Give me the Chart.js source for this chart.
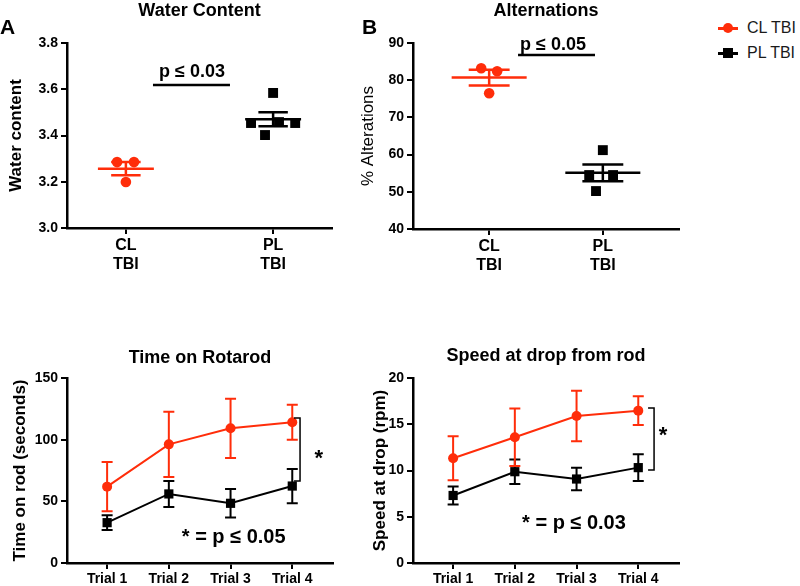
<!DOCTYPE html>
<html>
<head>
<meta charset="utf-8">
<script src="https://cdn.jsdelivr.net/npm/chart.js@4.4.1/dist/chart.umd.min.js"></script>
<style>
  body { margin: 0; background: #fff; width: 800px; height: 586px; position: relative; overflow: hidden;
         font-family: "Liberation Sans", Arial, Helvetica, sans-serif; }
  canvas { position: absolute; }
  #legend { position: absolute; left: 716px; top: 17px; font-size: 16px; color: #1a1a1a; }
  #legend .row { height: 25px; line-height: 22px; white-space: nowrap; position: relative; padding-left: 31px; }
  #legend .ln { position: absolute; left: 2px; top: 10px; width: 20px; height: 3px; }
  #legend .mk { position: absolute; left: 7px; top: 6px; width: 10px; height: 10px; }
</style>
</head>
<body>
<canvas id="chartA" width="340" height="275" style="left:0;top:0"></canvas>
<canvas id="chartB" width="340" height="275" style="left:346px;top:0"></canvas>
<canvas id="chartC" width="340" height="306" style="left:0;top:280px"></canvas>
<canvas id="chartD" width="340" height="306" style="left:346px;top:280px"></canvas>
<div id="legend"></div>
<script>
// ---- data ----
const seriesNames = ['CL TBI', 'PL TBI'];
const groupLabels = [['CL', 'TBI'], ['PL', 'TBI']];
const trialLabels = ['Trial 1', 'Trial 2', 'Trial 3', 'Trial 4'];

// A: water content, one value per animal (x = group 1/2 with a little jitter)
const waterCL = [3.285, 3.285, 3.199];
const waterCLx = [0.94, 1.055, 1.0];
const waterPL = [3.454, 3.402, 3.584, 3.458, 3.454];
const waterPLx = [1.85, 1.945, 2.0, 2.04, 2.15];

// B: % alternations
const altCL = [83.2, 82.4, 76.5];
const altCLx = [0.93, 1.07, 1.0];
const altPL = [54.5, 50.2, 61.2, 54.5];
const altPLx = [1.88, 1.94, 2.0, 2.09];

// C: time on rotarod (mean, error)
const rotaCL = [61.9, 96.2, 109.2, 114.1];
const rotaCLerr = [20, 26.5, 24, 14.2];
const rotaPL = [32.7, 56, 48.4, 62.4];
const rotaPLerr = [6, 10.5, 11.6, 13.9];

// D: speed at drop (mean, error)
const speedCL = [11.32, 13.59, 15.89, 16.47];
const speedCLerr = [2.38, 3.1, 2.72, 1.55];
const speedPL = [7.3, 9.87, 9.08, 10.31];
const speedPLerr = [0.97, 1.33, 1.22, 1.45];

const RED = 'rgb(255,45,10)';
const BLACK = '#000';

Chart.defaults.font.family = '"Liberation Sans", Arial, Helvetica, sans-serif';
Chart.defaults.color = '#000';

const mean = a => a.reduce((s, v) => s + v, 0) / a.length;
const sem = a => {
  const m = mean(a);
  return Math.sqrt(a.reduce((s, v) => s + (v - m) ** 2, 0) / (a.length - 1) / a.length);
};

function yAxis(min, max, step, title, bold, titlePad, fmt) {
  return {
    min: min, max: max,
    ticks: { stepSize: step, font: { size: 14, weight: 'bold' }, padding: 3, callback: fmt || (v => v) },
    grid: { drawOnChartArea: false, color: '#000', lineWidth: 2, tickLength: 6 },
    border: { color: '#000', width: 2.5 },
    title: { display: true, text: title, font: { size: 17, weight: bold ? 'bold' : 'normal' },
             padding: { top: titlePad, bottom: 0 } },
    afterFit(s) { s.width = 67; }
  };
}

function xAxis(min, max, labels, fontSize, h) {
  return {
    type: 'linear', min: min, max: max,
    afterBuildTicks(s) { s.ticks = labels.map((_, i) => ({ value: i + 1 })); },
    ticks: { callback: v => labels[v - 1], font: { size: fontSize, weight: 'bold' }, padding: 2,
             maxRotation: 0, autoSkip: false },
    grid: { drawOnChartArea: false, color: '#000', lineWidth: 2, tickLength: 6 },
    border: { color: '#000', width: 2.5 },
    afterFit(s) { s.height = h; }
  };
}

// panel letter, title, mean/SEM lines, error bars, significance marks
function makeDeco(cfg) {
  return {
    id: 'deco' + cfg.letter,
    beforeDatasetsDraw(chart) {
      if (!cfg.errors) return;
      const { ctx, scales: { x, y } } = chart;
      cfg.errors.forEach(e => {
        ctx.save();
        ctx.strokeStyle = e.color;
        ctx.lineWidth = 2;
        e.mean.forEach((m, i) => {
          const px = x.getPixelForValue(i + 1);
          const t = y.getPixelForValue(m + e.err[i]);
          const b = y.getPixelForValue(m - e.err[i]);
          ctx.beginPath();
          ctx.moveTo(px, t); ctx.lineTo(px, b);
          ctx.moveTo(px - 5.5, t); ctx.lineTo(px + 5.5, t);
          ctx.moveTo(px - 5.5, b); ctx.lineTo(px + 5.5, b);
          ctx.stroke();
        });
        ctx.restore();
      });
    },
    afterDraw(chart) {
      const { ctx, chartArea: ca, scales: { x, y } } = chart;
      ctx.save();
      ctx.fillStyle = '#000';
      ctx.font = 'bold 21px "Liberation Sans", Arial, sans-serif';
      ctx.textAlign = 'left';
      ctx.textBaseline = 'alphabetic';
      ctx.fillText(cfg.letter, cfg.letterPos[0], cfg.letterPos[1]);

      ctx.font = 'bold 18px "Liberation Sans", Arial, sans-serif';
      ctx.textAlign = 'center';
      ctx.fillText(cfg.title, (ca.left + ca.right) / 2, cfg.titleY);

      if (cfg.groups) {
        cfg.groups.forEach(g => {
          const m = mean(g.vals), s = sem(g.vals);
          const cx = x.getPixelForValue(g.center);
          const hw = x.getPixelForValue(g.center + cfg.meanHalf) - cx;
          const sw = x.getPixelForValue(g.center + cfg.semHalf) - cx;
          const ym = y.getPixelForValue(m), yt = y.getPixelForValue(m + s), yb = y.getPixelForValue(m - s);
          ctx.strokeStyle = g.color;
          ctx.lineWidth = 2.5;
          ctx.beginPath();
          ctx.moveTo(cx - hw, ym); ctx.lineTo(cx + hw, ym);
          ctx.moveTo(cx - sw, yt); ctx.lineTo(cx + sw, yt);
          ctx.moveTo(cx - sw, yb); ctx.lineTo(cx + sw, yb);
          ctx.moveTo(cx, yt); ctx.lineTo(cx, yb);
          ctx.stroke();
        });
      }

      if (cfg.sigLine) {
        const L = cfg.sigLine;
        ctx.strokeStyle = '#000';
        ctx.lineWidth = 2.5;
        ctx.beginPath();
        ctx.moveTo(x.getPixelForValue(L.x0), y.getPixelForValue(L.y));
        ctx.lineTo(x.getPixelForValue(L.x1), y.getPixelForValue(L.y));
        ctx.stroke();
        ctx.font = 'bold 18px "Liberation Sans", Arial, sans-serif';
        ctx.textAlign = 'center';
        ctx.fillText(L.text, x.getPixelForValue(L.tx), y.getPixelForValue(L.ty));
      }

      if (cfg.bracket) {
        const B = cfg.bracket;
        const bx = x.getPixelForValue(B.x), bt = y.getPixelForValue(B.y0), bb = y.getPixelForValue(B.y1);
        ctx.strokeStyle = '#000';
        ctx.lineWidth = 1.5;
        ctx.beginPath();
        ctx.moveTo(bx - 6, bt); ctx.lineTo(bx, bt); ctx.lineTo(bx, bb); ctx.lineTo(bx - 6, bb);
        ctx.stroke();
        ctx.font = 'bold 22px "Liberation Sans", Arial, sans-serif';
        ctx.textAlign = 'center';
        ctx.textBaseline = 'middle';
        ctx.fillText('*', x.getPixelForValue(B.sx), y.getPixelForValue(B.sy) + 4);
        ctx.textBaseline = 'middle';
        ctx.textAlign = 'left';
        ctx.font = 'bold 20px "Liberation Sans", Arial, sans-serif';
        ctx.fillText(B.note, x.getPixelForValue(B.nx), y.getPixelForValue(B.ny));
      }
      ctx.restore();
    }
  };
}

const pts = (xs, ys) => ys.map((v, i) => ({ x: xs[i], y: v }));

function scatterChart(id, cl, clx, pl, plx, opts) {
  return new Chart(document.getElementById(id), {
    type: 'scatter',
    data: {
      datasets: [
        { label: seriesNames[0], data: pts(clx, cl), backgroundColor: RED, borderColor: RED,
          pointStyle: 'circle', pointRadius: 5.3, borderWidth: 0 },
        { label: seriesNames[1], data: pts(plx, pl), backgroundColor: BLACK, borderColor: BLACK,
          pointStyle: 'rect', pointRadius: 7, borderWidth: 0 }
      ]
    },
    options: {
      responsive: false, animation: false, devicePixelRatio: 1,
      layout: { padding: { left: 0, top: 43, right: opts.padRight, bottom: 0 } },
      plugins: { legend: { display: false }, tooltip: { enabled: false } },
      scales: {
        x: xAxis(opts.xmin, opts.xmax, groupLabels, 16, opts.xh),
        y: opts.y
      }
    },
    plugins: [makeDeco(opts.deco)]
  });
}

function lineChart(id, cl, clErr, pl, plErr, opts) {
  return new Chart(document.getElementById(id), {
    type: 'line',
    data: {
      datasets: [
        { label: seriesNames[0], data: pts([1, 2, 3, 4], cl), borderColor: RED, backgroundColor: RED,
          borderWidth: 2, pointStyle: 'circle', pointRadius: 5, pointBorderWidth: 0, tension: 0 },
        { label: seriesNames[1], data: pts([1, 2, 3, 4], pl), borderColor: BLACK, backgroundColor: BLACK,
          borderWidth: 2, pointStyle: 'rect', pointRadius: 6.5, pointBorderWidth: 0, tension: 0 }
      ]
    },
    options: {
      responsive: false, animation: false, devicePixelRatio: 1,
      layout: { padding: { left: 0, top: 98, right: 7, bottom: 0 } },
      plugins: { legend: { display: false }, tooltip: { enabled: false } },
      scales: {
        x: xAxis(0.35, 4.66, trialLabels, 14, 23),
        y: opts.y
      }
    },
    plugins: [makeDeco(Object.assign({
      errors: [{ color: BLACK, mean: pl, err: plErr }, { color: RED, mean: cl, err: clErr }]
    }, opts.deco))]
  });
}

scatterChart('chartA', waterCL, waterCLx, waterPL, waterPLx, {
  xmin: 0.6, xmax: 2.4, padRight: 8, xh: 47,
  y: yAxis(3.0, 3.8, 0.2, 'Water content', true, 6, v => v.toFixed(1)),
  deco: {
    letter: 'A', letterPos: [0, 34], title: 'Water Content', titleY: 16,
    groups: [{ vals: waterCL, center: 1, color: RED }, { vals: waterPL, center: 2, color: BLACK }],
    meanHalf: 0.19, semHalf: 0.1,
    sigLine: { x0: 1.184, x1: 1.707, y: 3.618, text: 'p \u2264 0.03', tx: 1.449, ty: 3.655 }
  }
});

scatterChart('chartB', altCL, altCLx, altPL, altPLx, {
  xmin: 0.33, xmax: 2.67, padRight: 7, xh: 46,
  y: yAxis(40, 90, 10, '% Alterations', false, 12),
  deco: {
    letter: 'B', letterPos: [16, 34], title: 'Alternations', titleY: 16,
    groups: [{ vals: altCL, center: 1, color: RED }, { vals: altPL, center: 2, color: BLACK }],
    meanHalf: 0.33, semHalf: 0.18,
    sigLine: { x0: 1.254, x1: 1.931, y: 86.8, text: 'p \u2264 0.05', tx: 1.562, ty: 88.0 }
  }
});

lineChart('chartC', rotaCL, rotaCLerr, rotaPL, rotaPLerr, {
  y: yAxis(0, 150, 50, 'Time on rod (seconds)', true, 10),
  deco: {
    letter: 'C', letterPos: [0, 322], title: 'Time on Rotarod', titleY: 83,
    bracket: { x: 4.126, y0: 117.6, y1: 66.5, sx: 4.43, sy: 87.6,
               note: '* = p \u2264 0.05', nx: 2.21, ny: 20.3 }
  }
});

lineChart('chartD', speedCL, speedCLerr, speedPL, speedPLerr, {
  y: yAxis(0, 20, 5, 'Speed at drop (rpm)', true, 24),
  deco: {
    letter: 'D', letterPos: [16, 322], title: 'Speed at drop from rod', titleY: 81,
    bracket: { x: 4.256, y0: 16.76, y1: 10.05, sx: 4.40, sy: 14.16,
               note: '* = p \u2264 0.03', nx: 2.117, ny: 4.32 }
  }
});

// legend
const legend = document.getElementById('legend');
seriesNames.forEach((name, i) => {
  const row = document.createElement('div');
  row.className = 'row';
  const col = i === 0 ? RED : BLACK;
  row.innerHTML = '<span class="ln" style="background:' + col + '"></span>' +
    '<span class="mk" style="background:' + col + ';border-radius:' + (i === 0 ? '50%' : '0') + '"></span>' + name;
  legend.appendChild(row);
});
</script>
</body>
</html>
